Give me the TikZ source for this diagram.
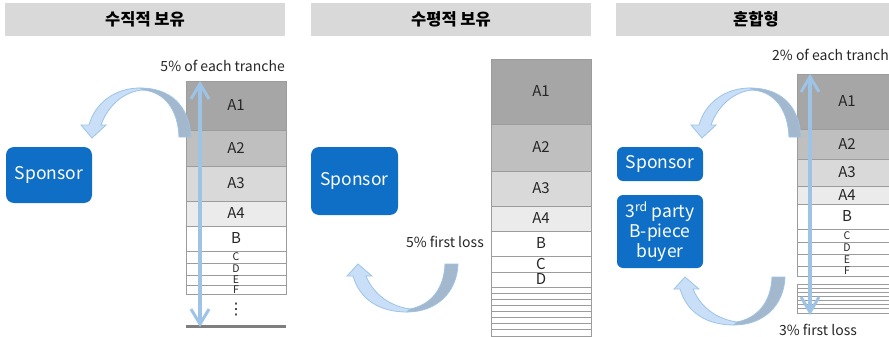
\documentclass[tikz,border=0pt]{standalone}
\usepackage{fontspec}
\setmainfont{Noto Sans CJK KR}
\newfontfamily\symfnt{DejaVu Sans}
\usetikzlibrary{arrows.meta}
\definecolor{hdr}{HTML}{D9D9D9}
\definecolor{ga1}{HTML}{A6A6A6}
\definecolor{ga2}{HTML}{BFBFBF}
\definecolor{ga3}{HTML}{D9D9D9}
\definecolor{ga4}{HTML}{EBEBEB}
\definecolor{rowline}{HTML}{9C9C9C}
\definecolor{spblue}{HTML}{0F6FC6}
\definecolor{arrline}{HTML}{9DC3E6}
\definecolor{arrlight}{HTML}{C9DFF7}
\definecolor{arrdark}{HTML}{A3B8CC}
\definecolor{txt}{HTML}{262626}
\definecolor{barcol}{HTML}{7F7F7F}
\newcommand\trow[7]{%
  \filldraw[rowbox, fill=#6] (#2,#3) rectangle (#4,#5);
  \node[lbl] (#1) at ({(#2+#4)/2},{(#3+#5)/2}) {#7};}
\newcommand\sm[1]{{\fontsize{10.5}{11}\selectfont #1}}
\newcommand\curvtop{%
  \filldraw[curvlight] (140,88) .. controls (115,88) and (95,103) .. (89,125) -- (81,125) -- (92,138) -- (106,125) -- (101,125) .. controls (108,105) and (125,91) .. (143,90) -- cycle;
  \filldraw[curvdark] (140,88) .. controls (170,88) and (189,105) .. (191,137) -- (179,137) .. controls (178,110) and (165,92) .. (143,90) -- cycle;}
\newcommand\curvbot{%
  \filldraw[curvlight] (407,312) .. controls (380,312) and (360,300) .. (353,276) -- (347,276) -- (358,264) -- (372,276) -- (366,276) .. controls (374,295) and (390,306) .. (410,309) -- cycle;
  \filldraw[curvdark] (407,312) .. controls (437,312) and (457,292) .. (458,264) -- (445,264) .. controls (444,290) and (430,305) .. (410,309) -- cycle;}
\begin{document}
\begin{tikzpicture}[x=1pt,y=-1pt,
  header/.style={fill=hdr, draw=none, minimum width=280pt, minimum height=33pt, inner sep=0pt,
    font=\bfseries\fontsize{16.5}{18}\selectfont, text=black},
  lbl/.style={font=\fontsize{15}{17}\selectfont, text=txt, inner sep=0pt},
  note/.style={font=\fontsize{14}{16}\selectfont, text=txt, inner sep=0pt},
  sponsor/.style={fill=spblue, draw=none, rounded corners=8pt, text=white,
    font=\fontsize{17.5}{20}\selectfont, inner sep=0pt, align=center, minimum width=86pt},
  rowbox/.style={draw=rowline, line width=0.9pt},
  thinrow/.style={draw=rowline, line width=0.8pt},
  vline/.style={draw=arrline, line width=3.2pt,
    {Straight Barb[length=15pt,width=18pt,line width=3pt]}-{Straight Barb[length=15pt,width=18pt,line width=3pt]}},
  curvlight/.style={fill=arrlight, draw=arrline, line width=0.8pt},
  curvdark/.style={fill=arrdark, draw=arrline, line width=0.8pt}]
\useasboundingbox (0,0) rectangle (889,337);
\begin{scope}
\clip (0,0) rectangle (889,337);
% headers
\node[header] (h1) at (145,19.5) {수직적 보유};
\node[header] (h2) at (451,19.5) {수평적 보유};
\node[header] (h3) at (756,19.5) {혼합형};

% ---------- panel 1 ----------
\node[note, anchor=base east] (n1) at (285,71) {5\% of each tranche};
\begin{scope}
\clip (180,78) rectangle (292,294.5);
\trow{s1a}{186}{81}{286}{130}{ga1}{A1}
\trow{s1b}{186}{130}{286}{166}{ga2}{A2}
\trow{s1c}{186}{166}{286}{201}{ga3}{A3}
\trow{s1d}{186}{201}{286}{226}{ga4}{A4}
\trow{s1e}{186}{226}{286}{251}{white}{B}
\trow{s1f}{186}{251}{286}{263}{white}{\sm{C}}
\trow{s1g}{186}{263}{286}{275}{white}{\sm{D}}
\trow{s1h}{186}{275}{286}{285}{white}{\sm{E}}
\trow{s1i}{186}{285}{286}{294}{white}{\sm{F}}
\end{scope}
\node[inner sep=0pt, text=txt, font=\symfnt\fontsize{16}{18}\selectfont] (s1dots) at (236,310) {⋮};
\coordinate (bar1l) at (186,326.5);
\coordinate (bar1r) at (286,326.5);
\draw[barcol, line width=3pt] (bar1l) -- (bar1r);
\node[sponsor, minimum height=56pt] (sp1) at (49,175) {Sponsor};
\curvtop
\coordinate (v1t) at (200,81);
\coordinate (v1b) at (200,327);
\draw[vline] (v1t) -- (v1b);

% ---------- panel 2 ----------
\trow{s2a}{491}{59}{591}{124}{ga1}{A1}
\trow{s2b}{491}{124}{591}{171}{ga2}{A2}
\trow{s2c}{491}{171}{591}{206}{ga3}{A3}
\trow{s2d}{491}{206}{591}{231}{ga4}{A4}
\trow{s2e}{491}{231}{591}{256}{white}{B}
\trow{s2f}{491}{256}{591}{272}{white}{C}
\trow{s2g}{491}{272}{591}{287}{white}{D}
\draw[thinrow] (491,287) rectangle (591,336);
\foreach \i in {1,...,7} \draw[thinrow] (491,{287+\i*49/8}) -- (591,{287+\i*49/8});
\node[sponsor, minimum height=68pt, minimum width=87pt] (sp2) at (354.5,181) {Sponsor};
\node[note, anchor=base east] (n2) at (484,247) {5\% first loss};
\curvbot

% ---------- panel 3 ----------
\node[note, anchor=base west] (n3) at (772,60) {2\% of each tranch};
\begin{scope}
\clip (790,70) rectangle (900,276.5);
\trow{s3a}{797}{74}{897}{129}{ga1}{A1}
\trow{s3b}{797}{129}{897}{159}{ga2}{A2}
\trow{s3c}{797}{159}{897}{186}{ga3}{A3}
\trow{s3d}{797}{186}{897}{204}{ga4}{A4}
\trow{s3e}{797}{204}{897}{229}{white}{B}
\trow{s3f}{797}{229}{897}{242}{white}{\sm{C}}
\trow{s3g}{797}{242}{897}{254}{white}{\sm{D}}
\trow{s3h}{797}{254}{897}{266}{white}{\sm{E}}
\trow{s3i}{797}{266}{897}{276}{white}{\sm{F}}
\end{scope}
\draw[thinrow] (797,284) rectangle (897,313);
\foreach \i in {1,...,6} \draw[thinrow] (797,{284+\i*29/7}) -- (897,{284+\i*29/7});
\node[note, anchor=base] (n4) at (818,335) {3\% first loss};
\node[sponsor, minimum height=34pt, rounded corners=6pt] (sp3) at (660,164) {Sponsor};
\node[sponsor, minimum height=73pt, rounded corners=6pt] (bp3) at (660,231.5) {3\textsuperscript{rd} party\\B-piece\\buyer};
\begin{scope}[shift={(610,0)}]
\curvtop
\end{scope}
\begin{scope}[shift={(327,13)}]
\curvbot
\end{scope}
\coordinate (v3t) at (810,74);
\coordinate (v3b) at (810,315);
\draw[vline] (v3t) -- (v3b);
\end{scope}
\end{tikzpicture}
\end{document}
